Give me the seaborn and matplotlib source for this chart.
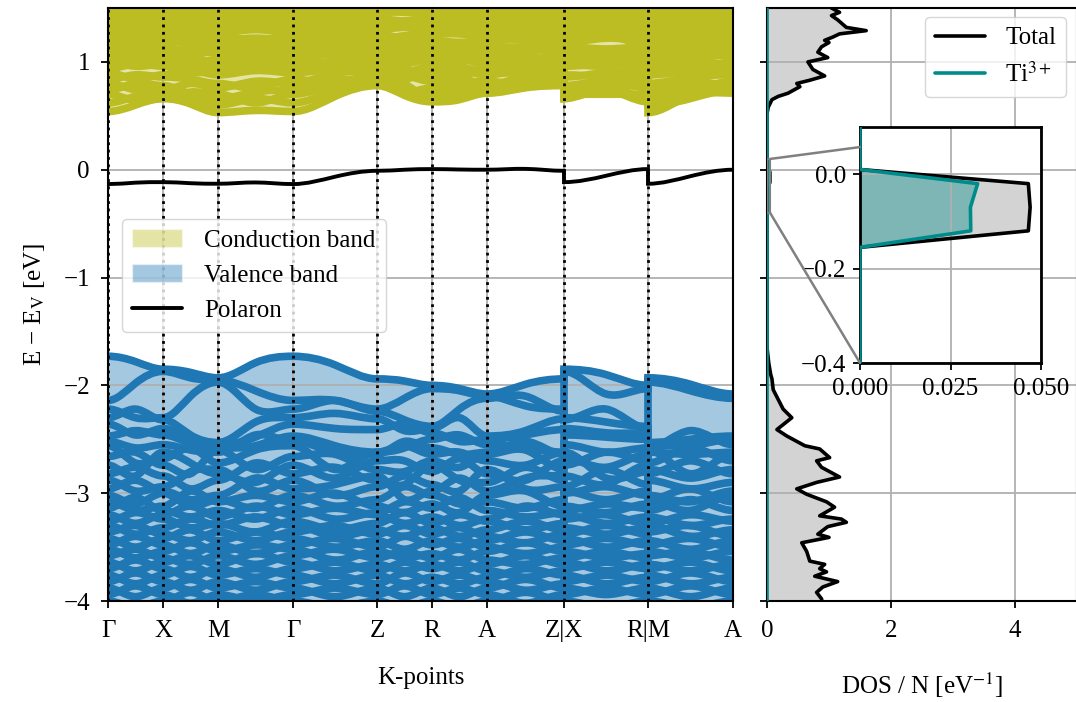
import numpy as np
import pandas as pd
import matplotlib
matplotlib.use("Agg")
import matplotlib.pyplot as plt
import seaborn as sns
from matplotlib.path import Path
from matplotlib.patches import PathPatch, Rectangle, ConnectionPatch, Patch
from matplotlib.lines import Line2D

# ---------------------------------------------------------------- k-path
kpoint_labels = ["Γ", "X", "M", "Γ", "Z", "R", "A", "Z|X", "R|M", "A"]
segment_lengths = [0.55, 0.55, 0.75, 0.84, 0.55, 0.55, 0.77, 0.84, 0.85]
# special points: 0=Γ 1=X 2=M 3=Z 4=R 5=A ; path segments as (start, end)
segment_ends = [(0, 1), (1, 2), (2, 0), (0, 3), (3, 4), (4, 5), (5, 3), (1, 4), (2, 5)]

# ---------------------------------------------------------------- bands
# each row: energies at (Γ, X, M, Z, R, A) and at the middle of each path segment
# (ΓX, XM, MΓ, ΓZ, ZR, RA, AZ, XR, MA), in eV relative to the VBM
vb_special = [
    [-1.73, -1.85, -1.93, -1.94, -2.00, -2.08],
    [-2.14, -1.87, -1.95, -2.22, -2.03, -2.10],
    [-2.22, -2.30, -1.97, -2.24, -2.38, -2.12],
    [-2.30, -2.32, -2.53, -2.31, -2.40, -2.47],
    [-2.36, -2.40, -2.55, -2.41, -2.44, -2.50],
    [-2.47, -2.46, -2.58, -2.62, -2.50, -2.55],
    [-2.52, -2.55, -2.62, -2.64, -2.58, -2.62],
    [-2.56, -2.68, -2.72, -2.62, -2.64, -2.70],
    [-2.66, -2.74, -2.60, -2.78, -2.70, -2.64],
    [-2.74, -2.62, -2.82, -2.70, -2.80, -2.82],
    [-2.82, -2.84, -2.88, -2.88, -2.74, -2.90],
    [-2.88, -2.94, -2.78, -2.94, -2.92, -2.78],
    [-2.96, -2.98, -3.02, -2.84, -2.98, -2.98],
    [-3.02, -3.00, -3.06, -3.06, -3.02, -3.08],
    [-3.08, -3.12, -3.08, -3.12, -3.10, -3.02],
    [-3.14, -3.16, -3.16, -3.18, -3.14, -3.16],
    [-3.20, -3.20, -3.22, -3.20, -3.22, -3.24],
    [-3.26, -3.24, -3.28, -3.28, -3.28, -3.26],
    [-3.30, -3.32, -3.30, -3.34, -3.32, -3.34],
    [-3.36, -3.38, -3.36, -3.38, -3.38, -3.40],
    [-3.42, -3.42, -3.44, -3.44, -3.44, -3.44],
    [-3.48, -3.48, -3.48, -3.50, -3.48, -3.50],
    [-3.52, -3.54, -3.54, -3.54, -3.56, -3.54],
    [-3.58, -3.60, -3.58, -3.60, -3.60, -3.62],
    [-3.64, -3.64, -3.66, -3.66, -3.66, -3.66],
    [-3.70, -3.70, -3.70, -3.72, -3.70, -3.72],
    [-3.76, -3.76, -3.76, -3.76, -3.78, -3.78],
    [-3.82, -3.82, -3.82, -3.84, -3.82, -3.82],
    [-3.88, -3.88, -3.88, -3.88, -3.88, -3.88],
    [-3.94, -3.94, -3.94, -3.94, -3.94, -3.94],
    [-4.00, -4.00, -4.00, -4.00, -4.00, -4.00],
]
vb_mid = [
    [-1.78, -1.88, -1.79, -1.81, -1.96, -2.03, -1.99, -1.90, -1.99],
    [-1.98, -1.93, -2.05, -2.14, -2.12, -2.05, -2.19, -2.08, -2.02],
    [-2.30, -2.10, -2.22, -2.14, -2.32, -2.22, -2.10, -2.34, -2.05],
    [-2.22, -2.46, -2.34, -2.26, -2.42, -2.30, -2.42, -2.22, -2.50],
    [-2.46, -2.50, -2.48, -2.40, -2.36, -2.52, -2.46, -2.44, -2.56],
    [-2.42, -2.54, -2.56, -2.56, -2.58, -2.46, -2.58, -2.48, -2.42],
    [-2.58, -2.60, -2.46, -2.62, -2.52, -2.64, -2.52, -2.62, -2.64],
    [-2.72, -2.58, -2.60, -2.78, -2.56, -2.62, -2.74, -2.76, -2.58],
    [-2.62, -2.82, -2.78, -2.64, -2.80, -2.76, -2.60, -2.62, -2.82],
    [-2.84, -2.72, -2.90, -2.86, -2.70, -2.68, -2.88, -2.86, -2.70],
    [-2.76, -2.96, -2.72, -2.76, -2.92, -2.88, -2.76, -2.92, -2.96],
    [-2.98, -2.80, -2.98, -3.02, -2.84, -2.98, -2.96, -2.78, -2.86],
    [-2.88, -3.06, -2.86, -2.92, -3.06, -2.86, -2.86, -3.06, -3.08],
    [-3.10, -3.12, -3.14, -3.12, -2.94, -3.10, -3.14, -2.94, -2.96],
    [-3.16, -2.98, -3.02, -3.00, -3.18, -3.18, -2.98, -3.18, -3.16],
    [-3.04, -3.22, -3.24, -3.24, -3.08, -3.04, -3.22, -3.10, -3.06],
    [-3.28, -3.12, -3.12, -3.14, -3.28, -3.30, -3.12, -3.28, -3.30],
    [-3.18, -3.32, -3.36, -3.34, -3.18, -3.20, -3.34, -3.20, -3.20],
    [-3.38, -3.24, -3.22, -3.40, -3.40, -3.40, -3.26, -3.38, -3.40],
    [-3.30, -3.44, -3.44, -3.30, -3.30, -3.32, -3.46, -3.30, -3.30],
    [-3.50, -3.34, -3.36, -3.50, -3.52, -3.50, -3.36, -3.50, -3.52],
    [-3.40, -3.56, -3.56, -3.42, -3.40, -3.42, -3.56, -3.42, -3.42],
    [-3.60, -3.46, -3.48, -3.62, -3.60, -3.62, -3.46, -3.60, -3.60],
    [-3.52, -3.66, -3.66, -3.52, -3.54, -3.52, -3.66, -3.54, -3.54],
    [-3.72, -3.58, -3.56, -3.72, -3.72, -3.72, -3.58, -3.72, -3.72],
    [-3.62, -3.78, -3.78, -3.64, -3.64, -3.64, -3.78, -3.64, -3.64],
    [-3.84, -3.68, -3.70, -3.84, -3.84, -3.84, -3.70, -3.84, -3.84],
    [-3.74, -3.90, -3.90, -3.76, -3.74, -3.76, -3.90, -3.76, -3.74],
    [-3.96, -3.80, -3.82, -3.96, -3.96, -3.96, -3.80, -3.94, -3.96],
    [-3.86, -4.02, -4.00, -3.88, -3.86, -3.88, -4.02, -3.88, -3.86],
    [-4.06, -3.92, -3.94, -4.06, -4.06, -4.06, -3.92, -4.06, -4.06],
]

cb_special = [
    [0.54, 0.66, 0.53, 0.78, 0.63, 0.71],
    [0.62, 0.70, 0.60, 0.82, 0.70, 0.74],
    [0.70, 0.66, 0.70, 0.86, 0.66, 0.80],
    [0.74, 0.78, 0.66, 0.80, 0.76, 0.82],
    [0.80, 0.74, 0.76, 0.90, 0.82, 0.78],
    [0.84, 0.86, 0.80, 0.86, 0.90, 0.88],
    [0.90, 0.88, 0.88, 0.96, 0.86, 0.94],
    [0.94, 0.96, 0.92, 0.92, 0.96, 0.90],
    [0.97, 1.01, 0.95, 0.99, 1.03, 0.97],
    [1.00, 0.98, 1.00, 1.02, 1.00, 1.00],
    [1.04, 1.04, 1.02, 1.06, 1.06, 1.06],
    [1.07, 1.11, 1.11, 1.13, 1.11, 1.09],
    [1.10, 1.08, 1.08, 1.10, 1.08, 1.12],
    [1.14, 1.14, 1.16, 1.16, 1.14, 1.14],
    [1.17, 1.21, 1.13, 1.19, 1.17, 1.23],
    [1.20, 1.18, 1.20, 1.20, 1.20, 1.20],
    [1.24, 1.24, 1.24, 1.26, 1.26, 1.24],
    [1.27, 1.31, 1.27, 1.23, 1.29, 1.33],
    [1.30, 1.28, 1.30, 1.30, 1.30, 1.30],
    [1.34, 1.34, 1.34, 1.36, 1.34, 1.36],
    [1.37, 1.41, 1.37, 1.33, 1.39, 1.43],
    [1.40, 1.38, 1.40, 1.40, 1.40, 1.40],
    [1.44, 1.44, 1.44, 1.46, 1.44, 1.46],
    [1.47, 1.47, 1.51, 1.49, 1.47, 1.53],
    [1.50, 1.50, 1.48, 1.50, 1.50, 1.50],
    [1.56, 1.54, 1.56, 1.56, 1.56, 1.56],
]
cb_mid = [
    [0.60, 0.61, 0.55, 0.68, 0.69, 0.65, 0.76, 0.74, 0.69],
    [0.68, 0.63, 0.66, 0.74, 0.74, 0.74, 0.80, 0.70, 0.66],
    [0.64, 0.72, 0.62, 0.80, 0.80, 0.70, 0.83, 0.78, 0.76],
    [0.80, 0.70, 0.72, 0.84, 0.72, 0.80, 0.78, 0.82, 0.72],
    [0.74, 0.80, 0.82, 0.90, 0.88, 0.86, 0.88, 0.76, 0.82],
    [0.88, 0.84, 0.76, 0.80, 0.84, 0.92, 0.92, 0.90, 0.86],
    [0.84, 0.92, 0.92, 0.94, 0.94, 0.86, 0.98, 0.86, 0.92],
    [0.98, 0.90, 0.98, 0.98, 0.90, 0.96, 0.90, 0.98, 0.98],
    [1.02, 0.96, 1.00, 0.94, 0.98, 1.04, 0.96, 1.00, 1.02],
    [0.96, 1.02, 0.96, 1.00, 1.04, 1.02, 1.04, 0.96, 0.94],
    [1.06, 1.00, 1.06, 1.08, 1.02, 1.08, 1.02, 1.06, 1.06],
    [1.12, 1.06, 1.10, 1.12, 1.08, 1.12, 1.10, 1.08, 1.14],
    [1.08, 1.12, 1.04, 1.06, 1.12, 1.08, 1.12, 1.10, 1.10],
    [1.18, 1.10, 1.14, 1.18, 1.14, 1.18, 1.14, 1.12, 1.16],
    [1.22, 1.16, 1.20, 1.14, 1.20, 1.16, 1.20, 1.24, 1.14],
    [1.16, 1.20, 1.22, 1.22, 1.24, 1.18, 1.22, 1.22, 1.20],
    [1.26, 1.26, 1.20, 1.24, 1.22, 1.26, 1.26, 1.28, 1.26],
    [1.32, 1.26, 1.30, 1.26, 1.24, 1.30, 1.28, 1.32, 1.26],
    [1.28, 1.30, 1.32, 1.32, 1.32, 1.28, 1.30, 1.28, 1.32],
    [1.36, 1.32, 1.36, 1.34, 1.38, 1.36, 1.36, 1.36, 1.34],
    [1.42, 1.36, 1.40, 1.38, 1.34, 1.40, 1.38, 1.42, 1.36],
    [1.38, 1.42, 1.38, 1.42, 1.38, 1.42, 1.42, 1.40, 1.40],
    [1.46, 1.46, 1.46, 1.44, 1.46, 1.44, 1.46, 1.46, 1.46],
    [1.52, 1.46, 1.50, 1.48, 1.52, 1.48, 1.52, 1.50, 1.48],
    [1.48, 1.50, 1.52, 1.52, 1.50, 1.52, 1.50, 1.48, 1.50],
    [1.58, 1.52, 1.58, 1.54, 1.58, 1.54, 1.58, 1.58, 1.54],
]

polaron_special = [-0.133, -0.115, -0.130, -0.010, 0.006, 0.000]
polaron_mid = [-0.120, -0.125, -0.118, -0.065, 0.000, 0.002, 0.008, -0.056, -0.060]

# ---------------------------------------------------------------- DOS
dos_energy = [1.60, 1.50, 1.46, 1.43, 1.39, 1.32, 1.29, 1.26, 1.23, 1.20, 1.18, 1.14,
              1.09, 1.04, 1.00, 0.93, 0.87, 0.83, 0.80, 0.77, 0.71, 0.68, 0.65, 0.58,
              0.52, 0.01, -0.02, -0.07, -0.12, -0.155, -1.65, -1.80, -1.90, -1.94,
              -2.04, -2.22, -2.30, -2.41, -2.47, -2.56, -2.59, -2.67, -2.70, -2.76,
              -2.85, -2.90, -2.96, -3.01, -3.08, -3.13, -3.21, -3.24, -3.27, -3.31,
              -3.38, -3.41, -3.46, -3.54, -3.63, -3.66, -3.70, -3.73, -3.77, -3.82,
              -3.87, -3.92, -3.98, -4.05]
dos_total = [1.00, 1.04, 1.17, 1.04, 1.14, 1.28, 1.60, 1.17, 1.06, 0.93, 1.00, 0.88,
             0.82, 0.98, 0.66, 0.74, 0.93, 0.69, 0.48, 0.53, 0.34, 0.18, 0.08, 0.02,
             0.0, 0.0, 0.0465, 0.047, 0.0465, 0.0, 0.0, 0.03, 0.06, 0.08,
             0.10, 0.26, 0.40, 0.16, 0.32, 0.61, 0.85, 1.01, 0.80, 0.88,
             1.17, 0.80, 0.48, 0.64, 0.96, 1.09, 0.85, 1.20, 1.28, 0.98,
             0.82, 1.00, 0.56, 0.64, 0.69, 0.93, 0.85, 0.96, 0.77, 1.14,
             0.90, 0.80, 0.88, 0.90]
dos_ti3 = [0.0] * 26 + [0.0325, 0.0305, 0.0306] + [0.0] * 39

# ---------------------------------------------------------------- style
FS = 18
sns.set_theme(style="whitegrid", rc={
    "axes.edgecolor": "black", "axes.linewidth": 1.5, "grid.color": "#b0b0b0",
    "grid.linewidth": 1.3, "axes.axisbelow": "line",
    "xtick.bottom": True, "ytick.left": True, "xtick.major.size": 5,
    "ytick.major.size": 5, "xtick.major.width": 1.3, "ytick.major.width": 1.3,
    "xtick.major.pad": 9, "ytick.major.pad": 8, "axes.labelpad": 18,
    "xtick.color": "black", "ytick.color": "black", "text.color": "black",
    "axes.labelcolor": "black",
})
plt.rcParams["font.family"] = ["Liberation Serif", "DejaVu Serif"]
plt.rcParams["mathtext.fontset"] = "stix"
for key in ["font.size", "axes.labelsize", "xtick.labelsize", "ytick.labelsize",
            "legend.fontsize"]:
    plt.rcParams[key] = FS

VB_COLOR = "tab:blue"
CB_COLOR = "tab:olive"
TI_COLOR = "#008b8b"
BAND_LW = 5.5

ticks = np.concatenate([[0.0], np.cumsum(segment_lengths)])


def band_vertices(special, mids):
    """Smooth band curve along the k-path as cubic Bezier pieces
    (flat at the high-symmetry points, passing through the segment middles)."""
    verts, codes = [], []
    for s, (i, j) in enumerate(segment_ends):
        x0, x1 = ticks[s], ticks[s + 1]
        e0, e1, em = special[i], special[j], mids[s]
        xm = 0.5 * (x0 + x1)
        h = xm - x0
        slope = 1.5 * (e1 - e0) / (x1 - x0)
        verts.append((x0, e0))
        codes.append(Path.MOVETO if s == 0 else Path.LINETO)
        verts += [(x0 + h / 3, e0), (xm - h / 3, em - slope * h / 3), (xm, em),
                  (xm + h / 3, em + slope * h / 3), (x1 - h / 3, e1), (x1, e1)]
        codes += [Path.CURVE4] * 6
    return verts, codes


def band_fill(all_special, all_mid, edge):
    verts, codes = [], []
    for sp, md in zip(all_special, all_mid):
        v, c = band_vertices(sp, md)
        verts += v + [(ticks[-1], edge), (ticks[0], edge), (0, 0)]
        codes += c + [Path.LINETO, Path.LINETO, Path.CLOSEPOLY]
    return Path(verts, codes)


fig = plt.figure(figsize=(10.76, 7.02), dpi=100)
W, H = 1076, 702
ax = fig.add_axes([108 / W, 1 - 601 / H, 625 / W, 593 / H])
ax2 = fig.add_axes([767 / W, 1 - 601 / H, 310 / W, 593 / H], sharey=ax)

# ---------------------------------------------------------------- band structure
ax.add_patch(PathPatch(band_fill(vb_special, vb_mid, -6.0), facecolor=VB_COLOR,
                       alpha=0.4, edgecolor="none", zorder=1))
ax.add_patch(PathPatch(band_fill(cb_special, cb_mid, 3.0), facecolor=CB_COLOR,
                       alpha=0.4, edgecolor="none", zorder=1))
for sp, md in zip(vb_special, vb_mid):
    v, c = band_vertices(sp, md)
    ax.add_patch(PathPatch(Path(v, c), fill=False, edgecolor=VB_COLOR, lw=BAND_LW,
                           capstyle="butt", zorder=2))
for sp, md in zip(cb_special, cb_mid):
    v, c = band_vertices(sp, md)
    ax.add_patch(PathPatch(Path(v, c), fill=False, edgecolor=CB_COLOR, lw=BAND_LW,
                           capstyle="butt", zorder=2))
v, c = band_vertices(polaron_special, polaron_mid)
ax.add_patch(PathPatch(Path(v, c), fill=False, edgecolor="black", lw=2.8, zorder=4))

for t in ticks:
    ax.axvline(t, color="black", ls=":", lw=2, zorder=3)

ax.set_xlim(ticks[0], ticks[-1])
ax.set_ylim(-4, 1.5)
ax.set_xticks(ticks)
ax.set_xticklabels(kpoint_labels)
ax.set_yticks([-4, -3, -2, -1, 0, 1])
ax.set_xlabel("K-points")
ax.set_ylabel("E − E$_\\mathrm{V}$ [eV]", labelpad=12)
ax.grid(True)

handles = [Patch(facecolor=CB_COLOR, alpha=0.4, label="Conduction band"),
           Patch(facecolor=VB_COLOR, alpha=0.4, label="Valence band"),
           Line2D([], [], color="black", lw=2.8, label="Polaron")]
ax.legend(handles=handles, loc="lower left", bbox_to_anchor=(0.022, 0.454),
          borderaxespad=0, handlelength=2.0, handletextpad=0.9)

# ---------------------------------------------------------------- DOS panel
dos_df = pd.DataFrame({"E": dos_energy, "Total": dos_total, "Ti3+": dos_ti3})


def draw_dos(axis, lw):
    axis.fill_betweenx(dos_df["E"], 0, dos_df["Total"], color="lightgrey", lw=0, zorder=1)
    axis.fill_betweenx(dos_df["E"], 0, dos_df["Ti3+"], color=TI_COLOR, alpha=0.4, lw=0, zorder=1)
    sns.lineplot(data=dos_df, x="Total", y="E", orient="y", sort=False, estimator=None,
                 color="black", lw=lw, ax=axis, zorder=3)
    sns.lineplot(data=dos_df, x="Ti3+", y="E", orient="y", sort=False, estimator=None,
                 color=TI_COLOR, lw=lw, ax=axis, zorder=3)


draw_dos(ax2, 2.6)
ax2.set_xlim(0, 5)
ax2.set_xticks([0, 2, 4])
ax2.set_xlabel("DOS / N [eV$^{-1}$]", labelpad=20)
ax2.set_ylabel("")
ax2.tick_params(labelleft=False)
ax2.grid(True)
ax2.legend(handles=[Line2D([], [], color="black", lw=2.6, label="Total"),
                    Line2D([], [], color=TI_COLOR, lw=2.6, label="Ti$^{3+}$")],
           loc="upper right", bbox_to_anchor=(0.965, 0.985), borderaxespad=0,
           handlelength=2.0)

# inset around the polaron level
axins = fig.add_axes([860 / W, 1 - 363 / H, 181 / W, 236 / H])
draw_dos(axins, 2.6)
axins.set_xlim(0, 0.05)
axins.set_ylim(-0.4, 0.1)
axins.set_xticks([0, 0.025, 0.05])
axins.set_xticklabels(["0.000", "0.025", "0.050"])
axins.set_yticks([-0.4, -0.2, 0.0])
axins.set_yticklabels(["−0.4", "−0.2", "0.0"])
axins.tick_params(axis="x", pad=6)
axins.tick_params(axis="y", pad=5)
axins.set_xlabel("")
axins.set_ylabel("")
axins.grid(True)
for sp in axins.spines.values():
    sp.set_linewidth(2)

ax2.add_patch(Rectangle((0, -0.4), 0.05, 0.5, fill=False, edgecolor="0.5", lw=1.5, zorder=4))
for pa, pb in [((0.05, 0.1), (0, 0.915)), ((0.05, -0.4), (0, 0))]:
    fig.add_artist(ConnectionPatch(xyA=pa, coordsA=ax2.transData, xyB=pb,
                                   coordsB=axins.transAxes, color="0.5", lw=1.8))

fig.savefig("out.png", dpi=100)
